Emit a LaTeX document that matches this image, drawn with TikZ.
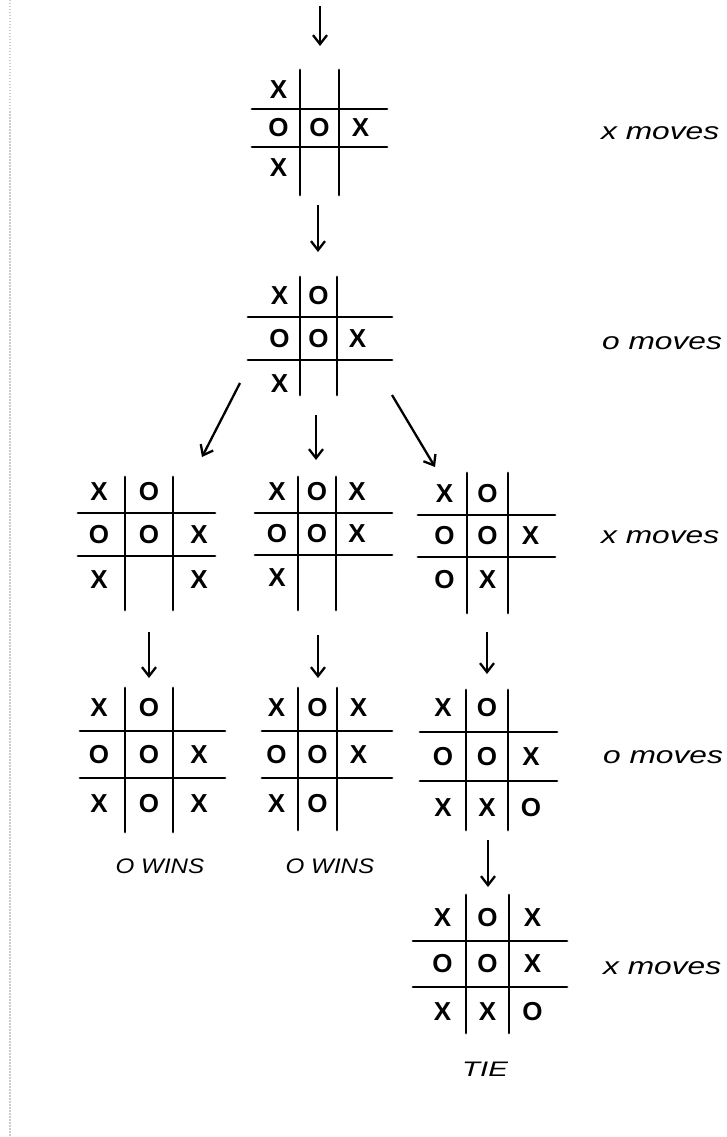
\documentclass[tikz,border=0pt]{standalone}
\usepackage{fontspec}
\setmainfont{Liberation Sans}
\usetikzlibrary{arrows.meta}
\tikzset{
  gridline/.style={line width=2.8pt, line cap=round, black},
  xo/.style={font=\fontsize{26}{26}\selectfont\bfseries, inner sep=0pt},
  movelbl/.style={font=\fontsize{24}{24}\selectfont\itshape, anchor=west, inner sep=0pt},
  reslbl/.style={font=\fontsize{21}{21}\selectfont\itshape, inner sep=0pt},
  arr/.style={line width=2.3pt, -{Straight Barb[length=9pt,width=14pt]}},
  margin/.style={gray!40, line width=1.2pt, dash pattern=on 1.5pt off 1.5pt}
}
\newcommand\setboard[8]{%
  \pgfmathsetmacro\tcA{#1-(#2-#1)/2-2}%
  \pgfmathsetmacro\tcB{(#1+#2)/2}%
  \pgfmathsetmacro\tcC{#2+(#2-#1)/2+2}%
  \pgfmathsetmacro\trA{#3-(#4-#3)/2}%
  \pgfmathsetmacro\trB{(#3+#4)/2}%
  \pgfmathsetmacro\trC{#4+(#4-#3)/2+2}%
  \draw[gridline] (#1,#7) -- (#1,#8);
  \draw[gridline] (#2,#7) -- (#2,#8);
  \draw[gridline] (#5,#3) -- (#6,#3);
  \draw[gridline] (#5,#4) -- (#6,#4);
}
\newcommand\mk[4]{\node[xo] (#1) at (#2,#3) {#4};}
\begin{document}
\begin{tikzpicture}[x=1pt,y=-1pt]
\useasboundingbox (0,0) rectangle (727,1137);
\fill[white] (0,0) rectangle (727,1137);
\coordinate (mtop) at (10,0);
\coordinate (mbot) at (10,1137);
\draw[margin] (mtop) -- (mbot);

% board 1
\setboard{300}{339}{109}{147}{252}{387}{70}{195}
\mk{b1-11}{\tcA}{\trA}{X}
\mk{b1-21}{\tcA}{\trB}{O}
\mk{b1-22}{\tcB}{\trB}{O}
\mk{b1-23}{\tcC}{\trB}{X}
\mk{b1-31}{\tcA}{\trC}{X}

% board 2
\setboard{300}{337}{317}{360}{248}{392}{277}{395}
\mk{b2-11}{\tcA}{\trA}{X}
\mk{b2-12}{\tcB}{\trA}{O}
\mk{b2-21}{\tcA}{\trB}{O}
\mk{b2-22}{\tcB}{\trB}{O}
\mk{b2-23}{\tcC}{\trB}{X}
\mk{b2-31}{\tcA}{\trC}{X}

% board 3 left
\setboard{125}{173}{513}{556}{78}{215}{477}{610}
\mk{b3l-11}{\tcA}{\trA}{X}
\mk{b3l-12}{\tcB}{\trA}{O}
\mk{b3l-21}{\tcA}{\trB}{O}
\mk{b3l-22}{\tcB}{\trB}{O}
\mk{b3l-23}{\tcC}{\trB}{X}
\mk{b3l-31}{\tcA}{\trC}{X}
\mk{b3l-33}{\tcC}{\trC}{X}

% board 3 middle
\setboard{298}{336}{513}{555}{255}{392}{477}{610}
\mk{b3m-11}{\tcA}{\trA}{X}
\mk{b3m-12}{\tcB}{\trA}{O}
\mk{b3m-13}{\tcC}{\trA}{X}
\mk{b3m-21}{\tcA}{\trB}{O}
\mk{b3m-22}{\tcB}{\trB}{O}
\mk{b3m-23}{\tcC}{\trB}{X}
\mk{b3m-31}{\tcA}{\trC}{X}

% board 3 right
\setboard{467}{508}{515}{557}{418}{555}{473}{613}
\mk{b3r-11}{\tcA}{\trA}{X}
\mk{b3r-12}{\tcB}{\trA}{O}
\mk{b3r-21}{\tcA}{\trB}{O}
\mk{b3r-22}{\tcB}{\trB}{O}
\mk{b3r-23}{\tcC}{\trB}{X}
\mk{b3r-31}{\tcA}{\trC}{O}
\mk{b3r-32}{\tcB}{\trC}{X}

% board 4 left
\setboard{125}{173}{731}{778}{80}{225}{688}{832}
\mk{b4l-11}{\tcA}{\trA}{X}
\mk{b4l-12}{\tcB}{\trA}{O}
\mk{b4l-21}{\tcA}{\trB}{O}
\mk{b4l-22}{\tcB}{\trB}{O}
\mk{b4l-23}{\tcC}{\trB}{X}
\mk{b4l-31}{\tcA}{\trC}{X}
\mk{b4l-32}{\tcB}{\trC}{O}
\mk{b4l-33}{\tcC}{\trC}{X}

% board 4 middle
\setboard{298}{337}{731}{778}{262}{392}{688}{830}
\mk{b4m-11}{\tcA}{\trA}{X}
\mk{b4m-12}{\tcB}{\trA}{O}
\mk{b4m-13}{\tcC}{\trA}{X}
\mk{b4m-21}{\tcA}{\trB}{O}
\mk{b4m-22}{\tcB}{\trB}{O}
\mk{b4m-23}{\tcC}{\trB}{X}
\mk{b4m-31}{\tcA}{\trC}{X}
\mk{b4m-32}{\tcB}{\trC}{O}

% board 4 right
\setboard{466}{508}{732}{781}{420}{557}{690}{830}
\mk{b4r-11}{\tcA}{\trA}{X}
\mk{b4r-12}{\tcB}{\trA}{O}
\mk{b4r-21}{\tcA}{\trB}{O}
\mk{b4r-22}{\tcB}{\trB}{O}
\mk{b4r-23}{\tcC}{\trB}{X}
\mk{b4r-31}{\tcA}{\trC}{X}
\mk{b4r-32}{\tcB}{\trC}{X}
\mk{b4r-33}{\tcC}{\trC}{O}

% board 5
\setboard{466}{509}{941}{987}{413}{567}{895}{1033}
\mk{b5-11}{\tcA}{\trA}{X}
\mk{b5-12}{\tcB}{\trA}{O}
\mk{b5-13}{\tcC}{\trA}{X}
\mk{b5-21}{\tcA}{\trB}{O}
\mk{b5-22}{\tcB}{\trB}{O}
\mk{b5-23}{\tcC}{\trB}{X}
\mk{b5-31}{\tcA}{\trC}{X}
\mk{b5-32}{\tcB}{\trC}{X}
\mk{b5-33}{\tcC}{\trC}{O}

% labels
\node[movelbl] (l1) at (601,133) {\scalebox{1.32}[1]{x moves}};
\node[movelbl] (l2) at (602,343) {\scalebox{1.32}[1]{o moves}};
\node[movelbl] (l3) at (601,537) {\scalebox{1.32}[1]{x moves}};
\node[movelbl] (l4) at (603,757) {\scalebox{1.32}[1]{o moves}};
\node[movelbl] (l5) at (603,968) {\scalebox{1.32}[1]{x moves}};
\node[reslbl] (r1) at (160,866) {\scalebox{1.15}[1]{O WINS}};
\node[reslbl] (r2) at (330,866) {\scalebox{1.15}[1]{O WINS}};
\node[reslbl] (r3) at (485,1069) {\scalebox{1.4}[1]{TIE}};

% arrows
\coordinate (a0s) at (320,6);   \coordinate (a0e) at (320,46);
\coordinate (a1s) at (318,205); \coordinate (a1e) at (318,252);
\coordinate (a2ls) at (240,383); \coordinate (a2le) at (202,457);
\coordinate (a2ms) at (316,415); \coordinate (a2me) at (316,460);
\coordinate (a2rs) at (392,395); \coordinate (a2re) at (435,467);
\coordinate (a3ls) at (149,632); \coordinate (a3le) at (149,678);
\coordinate (a3ms) at (318,635); \coordinate (a3me) at (318,678);
\coordinate (a3rs) at (487,632); \coordinate (a3re) at (487,674);
\coordinate (a4s) at (488,840); \coordinate (a4e) at (488,887);
\draw[arr] (a0s) -- (a0e);
\draw[arr] (a1s) -- (a1e);
\draw[arr] (a2ls) -- (a2le);
\draw[arr] (a2ms) -- (a2me);
\draw[arr] (a2rs) -- (a2re);
\draw[arr] (a3ls) -- (a3le);
\draw[arr] (a3ms) -- (a3me);
\draw[arr] (a3rs) -- (a3re);
\draw[arr] (a4s) -- (a4e);
\end{tikzpicture}
\end{document}
